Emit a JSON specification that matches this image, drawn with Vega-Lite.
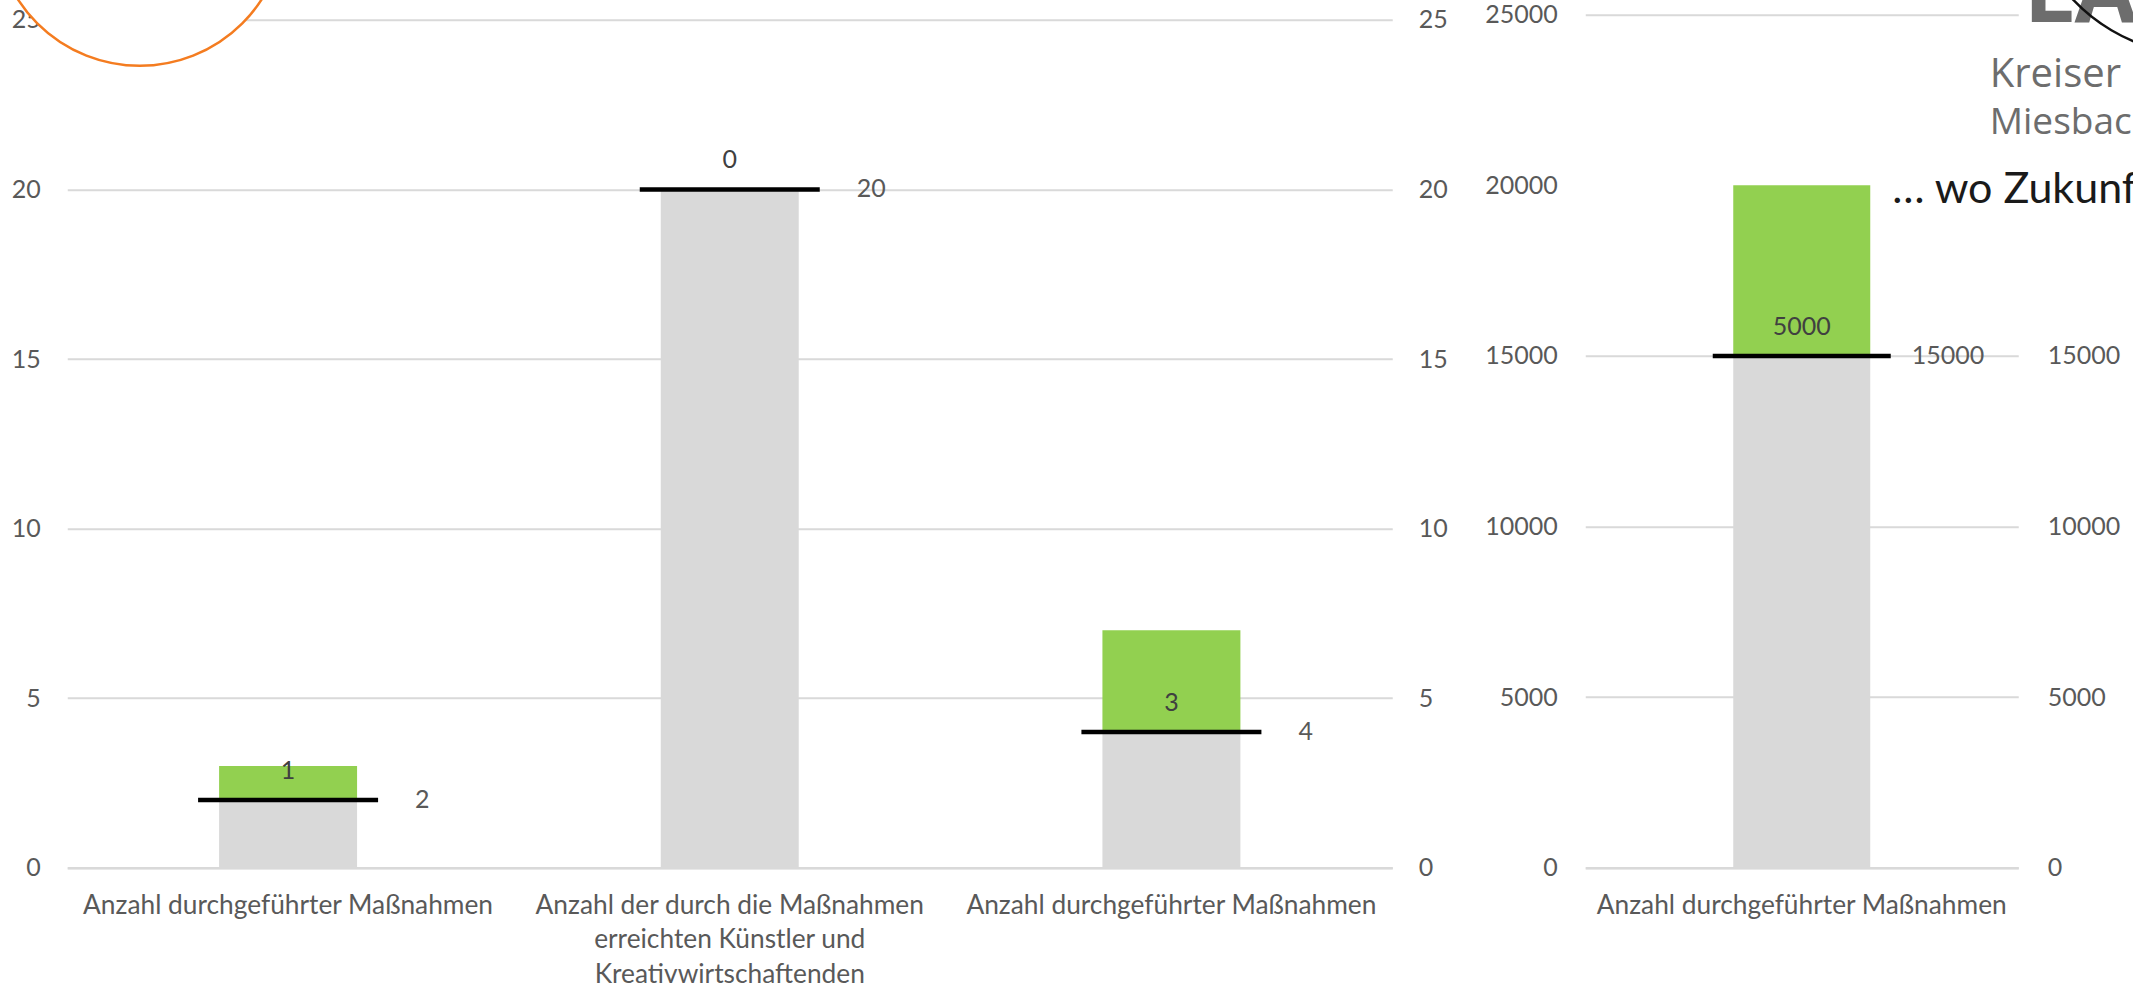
{
  "$schema": "https://vega.github.io/schema/vega-lite/v6.json",
  "background": "white",
  "padding": {"left": -10.75, "top": -229.25, "right": 0, "bottom": 0},
  "spacing": 193,
  "bounds": "flush",
  "config": {
    "view": {"stroke": null},
    "font": "Lato",
    "axis": {"labelFont": "Lato", "labelColor": "#595959", "labelFontSize": 25, "labelFlush": false, "labelOverlap": false, "title": null, "ticks": false, "tickSize": 0, "domain": false}
  },
  "datasets": {
    "links": [
      {"nr": 1, "kategorie": "Anzahl durchgeführter Maßnahmen", "ziel": 2, "ist": 3, "differenz": 1},
      {"nr": 2, "kategorie": "Anzahl der durch die Maßnahmen\nerreichten Künstler und\nKreativwirtschaftenden", "ziel": 20, "ist": 20, "differenz": 0},
      {"nr": 3, "kategorie": "Anzahl durchgeführter Maßnahmen", "ziel": 4, "ist": 7, "differenz": 3}
    ],
    "rechts": [
      {"nr": 1, "kategorie": "Anzahl durchgeführter Maßnahmen", "ziel": 15000, "ist": 20000, "differenz": 5000}
    ]
  },
  "hconcat": [
    {
      "width": 1325,
      "height": 853,
      "data": {"name": "links"},
      "encoding": {
        "x": {"field": "nr", "type": "ordinal", "scale": {"paddingInner": 0.6876, "paddingOuter": 0.3438},
              "axis": {"labels": false, "ticks": false, "domain": true, "domainColor": "#D9D9D9", "domainWidth": 2.5, "title": null}}
      },
      "layer": [
        {"mark": {"type": "bar", "color": "#D9D9D9"},
         "encoding": {"y": {"field": "ziel", "type": "quantitative", "scale": {"domain": [0, 25.15], "nice": false},
           "axis": {"orient": "left", "values": [0, 5, 10, 15, 20, 25], "format": "d", "grid": true, "gridColor": "#D9D9D9", "gridWidth": 2, "labelPadding": 27}}}},
        {"mark": {"type": "bar", "color": "#92D050"},
         "encoding": {"y": {"field": "ziel", "type": "quantitative",
           "axis": {"orient": "right", "values": [0, 5, 10, 15, 20, 25], "format": "d", "grid": false, "labelPadding": 26}},
           "y2": {"field": "ist"}}},
        {"mark": {"type": "tick", "color": "#000000", "thickness": 4.5, "size": 180, "opacity": 1},
         "encoding": {"y": {"field": "ziel", "type": "quantitative", "axis": null}}},
        {"mark": {"type": "text", "dy": -29, "baseline": "middle", "fontSize": 25, "color": "#404040"},
         "encoding": {"y": {"field": "ziel", "type": "quantitative", "axis": null}, "text": {"field": "differenz", "type": "quantitative", "format": "d"}}},
        {"mark": {"type": "text", "align": "left", "dx": 127, "baseline": "middle", "fontSize": 25, "color": "#595959"},
         "encoding": {"y": {"field": "ziel", "type": "quantitative", "axis": null}, "text": {"field": "ziel", "type": "quantitative", "format": "d"}}},
        {"mark": {"type": "text", "baseline": "top", "dy": 25, "lineBreak": "\n", "lineHeight": 34.7, "fontSize": 26.3, "color": "#595959"},
         "encoding": {"y": {"datum": 0, "type": "quantitative", "axis": null}, "text": {"field": "kategorie", "type": "nominal"}}},
        {"data": {"values": [{}]},
         "mark": {"type": "point", "shape": "circle", "size": 84100, "filled": false, "fill": "#FFFFFF", "fillOpacity": 1, "stroke": "#F47C20", "strokeWidth": 2.5, "opacity": 1, "xOffset": -148.3},
         "encoding": {"x": {"datum": 1, "type": "ordinal"}, "y": {"datum": 27.92, "type": "quantitative", "axis": null}}}
      ],
      "resolve": {"axis": {"y": "independent"}}
    },
    {
      "width": 433,
      "height": 853,
      "data": {"name": "rechts"},
      "encoding": {
        "x": {"field": "nr", "type": "ordinal", "scale": {"paddingInner": 0.6836, "paddingOuter": 0.3418},
              "axis": {"labels": false, "ticks": false, "domain": true, "domainColor": "#D9D9D9", "domainWidth": 2.5, "title": null}}
      },
      "layer": [
        {"mark": {"type": "bar", "color": "#D9D9D9"},
         "encoding": {"y": {"field": "ziel", "type": "quantitative", "scale": {"domain": [0, 25000], "nice": false},
           "axis": {"orient": "left", "values": [0, 5000, 10000, 15000, 20000, 25000], "format": "d", "grid": true, "gridColor": "#D9D9D9", "gridWidth": 2,
                    "gridOpacity": {"condition": {"test": "datum.value == 20000", "value": 0}, "value": 1}, "labelPadding": 28}}}},
        {"mark": {"type": "bar", "color": "#92D050"},
         "encoding": {"y": {"field": "ziel", "type": "quantitative",
           "axis": {"orient": "right", "values": [0, 5000, 10000, 15000], "format": "d", "grid": false, "labelPadding": 29}},
           "y2": {"field": "ist"}}},
        {"mark": {"type": "tick", "color": "#000000", "thickness": 4.5, "size": 178, "opacity": 1},
         "encoding": {"y": {"field": "ziel", "type": "quantitative", "axis": null}}},
        {"mark": {"type": "text", "dy": -29, "baseline": "middle", "fontSize": 25, "color": "#404040"},
         "encoding": {"y": {"field": "ziel", "type": "quantitative", "axis": null}, "text": {"field": "differenz", "type": "quantitative", "format": "d"}}},
        {"mark": {"type": "text", "align": "left", "dx": 110, "baseline": "middle", "fontSize": 25, "color": "#595959"},
         "encoding": {"y": {"field": "ziel", "type": "quantitative", "axis": null}, "text": {"field": "ziel", "type": "quantitative", "format": "d"}}},
        {"mark": {"type": "text", "baseline": "top", "dy": 25, "lineBreak": "\n", "lineHeight": 34.7, "fontSize": 26.3, "color": "#595959"},
         "encoding": {"y": {"datum": 0, "type": "quantitative", "axis": null}, "text": {"field": "kategorie", "type": "nominal"}}},
        {"mark": {"type": "text", "align": "left", "baseline": "alphabetic", "dx": 222, "dy": 7, "fontSize": 90, "fontWeight": "bold", "font": "Open Sans", "color": "#6D6D6D"},
         "encoding": {"y": {"datum": 25000, "type": "quantitative", "axis": null}, "text": {"value": "LA"}}},
        {"mark": {"type": "arc", "theta": 3.3, "theta2": 4.05, "innerRadius": 173.5, "outerRadius": 176, "color": "#111111", "xOffset": 398.5, "yOffset": -135},
         "encoding": {"x": {"datum": 1, "type": "ordinal"}, "y": {"datum": 25000, "type": "quantitative", "axis": null}}},
        {"mark": {"type": "text", "align": "left", "baseline": "alphabetic", "dx": 188, "dy": 72, "fontSize": 40, "font": "Open Sans", "color": "#6D6D6D"},
         "encoding": {"y": {"datum": 25000, "type": "quantitative", "axis": null}, "text": {"value": "Kreiser"}}},
        {"mark": {"type": "text", "align": "left", "baseline": "alphabetic", "dx": 188, "dy": 119, "fontSize": 37, "font": "Open Sans", "color": "#6D6D6D"},
         "encoding": {"y": {"datum": 25000, "type": "quantitative", "axis": null}, "text": {"value": "Miesbac"}}},
        {"mark": {"type": "text", "align": "left", "baseline": "alphabetic", "dx": 90.5, "dy": 18, "fontSize": 43, "font": "Lato", "color": "#1A1A1A"},
         "encoding": {"y": {"datum": 20000, "type": "quantitative", "axis": null}, "text": {"value": "… wo Zukunf"}}}
      ],
      "resolve": {"axis": {"y": "independent"}}
    }
  ]
}
